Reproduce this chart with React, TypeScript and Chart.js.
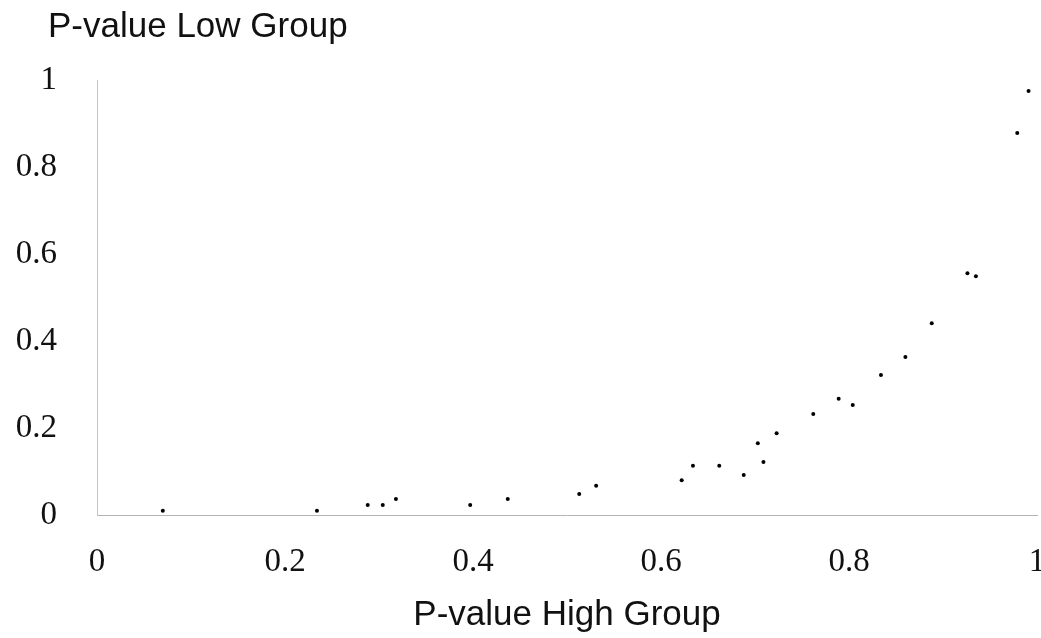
import React, { useEffect, useRef } from "react";
import { Chart, registerables } from "chart.js";

Chart.register(...registerables);

const highGroupP = [
  0.070, 0.234, 0.288, 0.304, 0.318, 0.397, 0.437, 0.513, 0.531, 0.622,
  0.634, 0.662, 0.688, 0.703, 0.709, 0.723, 0.762, 0.789, 0.804, 0.834,
  0.860, 0.888, 0.926, 0.935, 0.979, 0.991,
];
const lowGroupP = [
  0.010, 0.010, 0.023, 0.023, 0.037, 0.023, 0.037, 0.048, 0.067, 0.080,
  0.113, 0.113, 0.092, 0.165, 0.122, 0.188, 0.232, 0.267, 0.253, 0.322,
  0.363, 0.441, 0.556, 0.549, 0.878, 0.975,
];
const xTickLabels = ["0", "0.2", "0.4", "0.6", "0.8", "1"];
const yTickLabels = ["0", "0.2", "0.4", "0.6", "0.8", "1"];
const xTitle = "P-value High Group";
const yTitle = "P-value Low Group";

const SANS = "'Liberation Sans', Arial, sans-serif";
const SERIF = "'Liberation Serif', 'Times New Roman', serif";

const topTitlePlugin = {
  id: "topTitle",
  afterDraw(chart: any) {
    const ctx = chart.ctx;
    ctx.save();
    ctx.font = `normal 35px ${SANS}`;
    ctx.fillStyle = "#111";
    ctx.textAlign = "left";
    ctx.textBaseline = "middle";
    ctx.fillText(yTitle, 48, 27);
    ctx.restore();
  },
};

export default function App() {
  const ref = useRef<HTMLCanvasElement | null>(null);
  useEffect(() => {
    if (!ref.current) return;
    const points = highGroupP.map((x, i) => ({ x, y: lowGroupP[i] }));
    const chart = new Chart(ref.current, {
      type: "scatter",
      data: {
        datasets: [
          {
            data: points,
            pointRadius: 2,
            pointBackgroundColor: "#000",
            pointBorderWidth: 0,
            borderColor: "#000",
          },
        ],
      },
      plugins: [topTitlePlugin],
      options: {
        animation: false,
        responsive: true,
        maintainAspectRatio: false,
        layout: { padding: { left: 0, right: 4, top: 80, bottom: 0 } },
        plugins: {
          legend: { display: false },
          tooltip: { enabled: false },
          title: { display: false },
        },
        scales: {
          x: {
            type: "linear",
            min: 0,
            max: 1,
            afterFit: (s: any) => {
              s.height = 123;
              s.paddingLeft = 0;
              s.paddingRight = 0;
            },
            grid: { display: false, drawTicks: false },
            border: { display: true, color: "#b4b4b4", dash: [2, 3], width: 1 },
            ticks: {
              stepSize: 0.2,
              padding: 28,
              color: "#111",
              maxRotation: 0,
              font: { family: SERIF, size: 33 },
              callback: (_v: any, i: number) => xTickLabels[i],
            },
            title: {
              display: true,
              text: xTitle,
              color: "#111",
              font: { family: SANS, size: 35, weight: "normal" },
              padding: { top: 0, bottom: 2 },
            },
          },
          y: {
            type: "linear",
            min: 0,
            max: 1,
            afterFit: (s: any) => {
              s.width = 97;
              s.paddingTop = 0;
              s.paddingBottom = 0;
            },
            grid: { display: false, drawTicks: false },
            border: { display: true, color: "#c4c4c4", dash: [2, 3], width: 1 },
            ticks: {
              stepSize: 0.2,
              padding: 40,
              color: "#111",
              font: { family: SERIF, size: 33 },
              callback: (_v: any, i: number) => yTickLabels[i],
            },
          },
        },
      },
    });
    return () => chart.destroy();
  }, []);
  return (
    <div style={{ position: "fixed", left: 0, top: 0, width: 1041, height: 638, background: "#fff" }}>
      <canvas ref={ref} />
    </div>
  );
}
